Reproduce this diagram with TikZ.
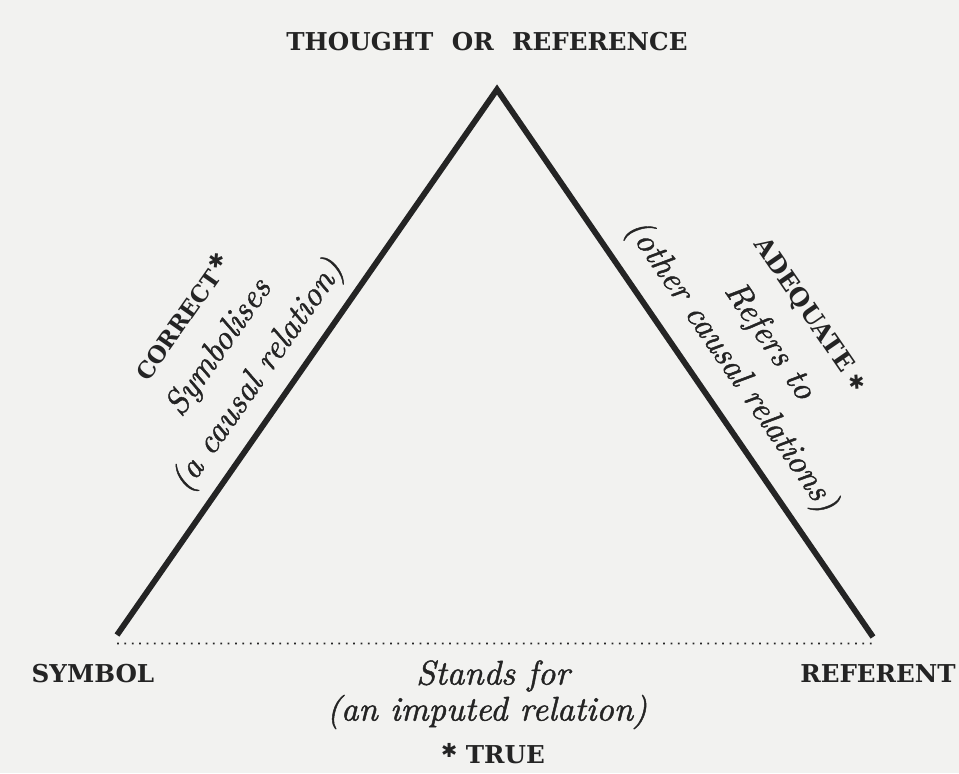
\documentclass[tikz,border=0pt]{standalone}
\usepackage{fontspec}
\newfontfamily\slabfont{DejaVu Serif}
\newfontfamily\starfont{DejaVu Sans}
\newfontfamily\relfont{lmroman10-italic.otf}[FakeBold=1.3]
\usetikzlibrary{positioning}
\definecolor{Paper}{HTML}{F2F2F0}
\definecolor{Ink}{HTML}{242424}
\tikzset{
  side/.style={draw=Ink, line width=3.3pt},
  imputed/.style={draw=Ink, line width=1pt, dash pattern=on 1pt off 3.2pt},
  corner/.style={font=\slabfont\bfseries\fontsize{14}{16}\selectfont,
                 text=Ink, inner sep=0pt},
  verdict/.style={font=\slabfont\bfseries\fontsize{13}{15}\selectfont,
                  text=Ink, inner sep=0pt},
  relation/.style={font=\relfont\fontsize{19.5}{23}\selectfont, text=Ink,
                   inner sep=0pt},
}
\newcommand{\refstar}{{\starfont\fontsize{11}{11}\selectfont ✱}}

\begin{document}
\begin{tikzpicture}
    \useasboundingbox (0,0) rectangle (19.18,15.46);
    \fill[Paper] (0,0) rectangle (19.18,15.46);

    % corners of the triangle
    \coordinate (thought) at (9.94, 13.67);
    \coordinate (sym) at (2.34, 2.76);
    \coordinate (ref) at (17.46, 2.72);

    \draw[side] (sym) -- (thought) -- (ref);
    % imputed relation: dotted base, just under the two corners
    \draw[imputed] ([yshift=-0.17cm]sym) -- ([yshift=-0.13cm]ref);

    \node[corner] (thoughtlab) at (9.74, 14.63) {THOUGHT\hspace{0.4em} OR\hspace{0.4em} REFERENCE};
    \node[corner] (symlab) at (1.86, 1.98) {SYMBOL};
    \node[corner] (reflab) at (17.56, 1.98) {REFERENT};

    \node[relation] (stands) at (9.86, 1.94) {Stands for};
    \node[relation] (imputedlab) at (9.74, 1.22) {(an imputed relation)};
    \node[verdict, font=\slabfont\bfseries\fontsize{14}{16}\selectfont]
      (true) at (9.86, 0.39) {\raisebox{0.45ex}{\refstar}\hspace{0.35em}TRUE};

    % left side, symbol to thought
    \node[verdict, rotate=55] (correct) at (3.64, 9.13)
      {CORRECT\hspace{0.1em}\raisebox{0.55ex}{\refstar}};
    \node[relation, rotate=55] (symbolises) at (4.39, 8.50) {Symbolises};
    \node[relation, rotate=55] (causal) at (5.17, 7.94) {(a causal relation)};

    % right side, thought to referent
    \node[verdict, rotate=-55.5, font=\slabfont\bfseries\fontsize{14}{16}\selectfont]
      (adequate) at (16.20, 9.16) {ADEQUATE\hspace{0.3em}\refstar};
    \node[relation, rotate=-55.5] (refers) at (15.38, 8.63) {Refers to};
    \node[relation, rotate=-55.5] (other) at (14.62, 8.13)
      {(other causal relations)};
\end{tikzpicture}
\end{document}
